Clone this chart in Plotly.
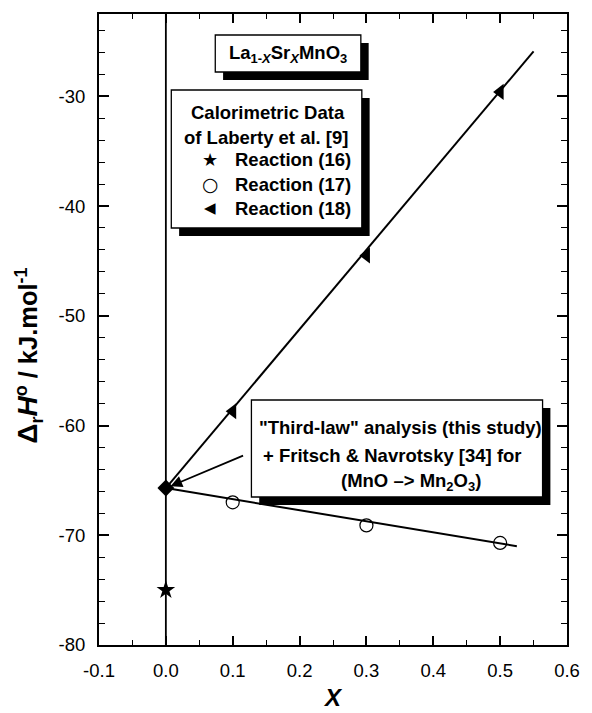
import plotly.graph_objects as go

# ---- data ----
x16 = [0.0]
y16 = [-75.0]
x17 = [0.1, 0.3, 0.5]
y17 = [-67.0, -69.1, -70.7]
x18 = [0.1, 0.3, 0.5]
y18 = [-58.7, -44.5, -29.6]
x_third = [0.0]
y_third = [-65.7]
fit18_x = [0.0, 0.55]
fit18_y = [-65.7, -25.9]
fit17_x = [0.0, 0.525]
fit17_y = [-65.7, -71.0]
x_ticks = [-0.1, 0.0, 0.1, 0.2, 0.3, 0.4, 0.5, 0.6]
x_ticklabels = ["-0.1", "0.0", "0.1", "0.2", "0.3", "0.4", "0.5", "0.6"]
y_ticks = [-80, -70, -60, -50, -40, -30]
y_ticklabels = ["-80", "-70", "-60", "-50", "-40", "-30"]
legend_names = ["Reaction (16)", "Reaction (17)", "Reaction (18)"]
legend_glyphs = ["★", "○", "◀"]

W, H = 592, 713
L, R, T, B = 99, 578, 14, 645   # plot area in pixels
FONT = "Liberation Sans, Arial, Helvetica, sans-serif"


def px(xp):
    return (xp - L) / (R - L)


def py(yp):
    return (B - yp) / (B - T)


fig = go.Figure()

fig.add_trace(go.Scatter(x=[0, 0], y=[-80, -22.5], mode="lines",
                         line=dict(color="black", width=1.8), showlegend=False, hoverinfo="skip"))
fig.add_trace(go.Scatter(x=fit18_x, y=fit18_y, mode="lines",
                         line=dict(color="black", width=2), showlegend=False))
fig.add_trace(go.Scatter(x=fit17_x, y=fit17_y, mode="lines",
                         line=dict(color="black", width=2), showlegend=False))

fig.add_trace(go.Scatter(x=x16, y=y16, mode="markers", name=legend_names[0], showlegend=False,
                         marker=dict(symbol="star", size=14, color="black")))
fig.add_trace(go.Scatter(x=x17, y=y17, mode="markers", name=legend_names[1], showlegend=False,
                         marker=dict(symbol="circle-open", size=13, color="black",
                                     line=dict(width=1.2, color="black"))))
fig.add_trace(go.Scatter(x=x18, y=y18, mode="markers", name=legend_names[2], showlegend=False,
                         marker=dict(symbol="triangle-left", size=14, color="black")))
fig.add_trace(go.Scatter(x=x_third, y=y_third, mode="markers", showlegend=False,
                         marker=dict(symbol="diamond", size=13, color="black")))

shapes = []


def box(x0, y0, x1, y1, off=8):
    shapes.append(dict(type="rect", xref="paper", yref="paper",
                       x0=px(x0 + off), x1=px(x1 + off), y0=py(y0 + off), y1=py(y1 + off),
                       fillcolor="black", line=dict(width=0)))
    shapes.append(dict(type="rect", xref="paper", yref="paper",
                       x0=px(x0), x1=px(x1), y0=py(y0), y1=py(y1),
                       fillcolor="white", line=dict(color="black", width=1.3)))


box(218, 35, 367, 72)
box(173, 90, 368, 228)
box(255, 400, 553, 497)

annotations = []


def text(xp, yp, s, size=18.5, family=FONT, weight="bold", **kw):
    d = dict(xref="paper", yref="paper", x=px(xp), y=py(yp), text=s, showarrow=False,
             font=dict(family=family, size=size, color="black", weight=weight),
             xanchor="center", yanchor="middle")
    d.update(kw)
    annotations.append(d)


text(292, 54, "La<sub>1-<i>X</i></sub>Sr<sub><i>X</i></sub>MnO<sub>3</sub>")
text(272, 112, "Calorimetric Data")
text(270, 137, "of Laberty et al. [9]")

# legend rows
legend_y = [160, 184, 208]
glyph_sizes = [18, 19, 15]
for name, g, yy, gs in zip(legend_names, legend_glyphs, legend_y, glyph_sizes):
    text(213, yy, g, size=gs, family="DejaVu Sans", weight="normal")
    text(236, yy, name, xanchor="left")

text(408, 427, '"Third-law" analysis (this study)')
text(399, 455, "+ Fritsch &amp; Navrotsky [34] for")
text(418, 482, "(MnO –&gt; Mn<sub>2</sub>O<sub>3</sub>)")
text(27, 356,
     "<span style='font-size:28px'>Δ</span><sub>r</sub>"
     "<span style='font-size:28px'><i>H</i></span><sup>o</sup> / kJ.mol<sup>-1</sup>",
     size=25.5, textangle=-90)
text(339, 713, "<i>X</i>", size=24, yanchor="bottom")

annotations.append(dict(x=x_third[0], y=y_third[0], xref="x", yref="y",
                        ax=-0.1 + (248 - L) / (R - L) * 0.7, ay=-80 + (B - 455) / (B - T) * 57.5,
                        axref="x", ayref="y", showarrow=True, arrowhead=2, arrowsize=1.3,
                        arrowwidth=1.8, arrowcolor="black", standoff=5, text=""))

axis_common = dict(showline=True, linecolor="black", linewidth=2, mirror="ticks",
                   ticks="inside", tickcolor="black", tickwidth=1.6, showgrid=False,
                   zeroline=False, tickfont=dict(family=FONT, size=18.5, color="black"))

fig.update_layout(
    width=W, height=H,
    margin=dict(l=L, r=W - R, t=T, b=H - B),
    paper_bgcolor="white", plot_bgcolor="white",
    showlegend=False,
    xaxis=dict(range=[-0.1, 0.6], tickvals=x_ticks, ticktext=x_ticklabels, ticklen=9,
               minor=dict(dtick=0.05, tick0=0, ticks="inside", ticklen=5, tickwidth=1.4,
                          tickcolor="black"),
               ticklabelstandoff=8, **axis_common),
    yaxis=dict(range=[-80, -22.5], tickvals=y_ticks, ticktext=y_ticklabels, ticklen=10,
               minor=dict(dtick=2, tick0=0, ticks="inside", ticklen=6, tickwidth=1.4,
                          tickcolor="black"),
               ticklabelstandoff=8, **axis_common),
    shapes=shapes,
    annotations=annotations,
)

fig.write_html("out.html")
